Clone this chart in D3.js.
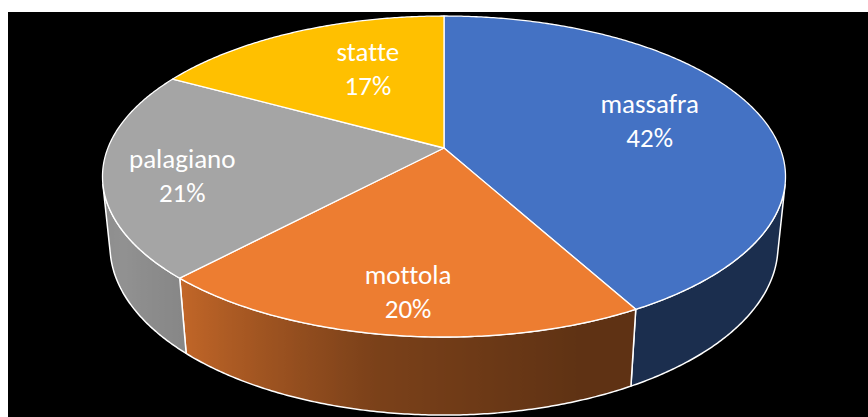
<!DOCTYPE html>
<html>
<head>
<meta charset="utf-8">
<script src="https://cdn.jsdelivr.net/npm/d3@7/dist/d3.min.js"></script>
<style>
  body { margin: 0; background: #fff; }
  svg { display: block; }
</style>
</head>
<body>
<div id="chart"></div>
<script>
// data
const categories = ["massafra", "mottola", "palagiano", "statte"];
const shares = [42, 20, 21, 17];
const percentLabels = ["42%", "20%", "21%", "17%"];

// styling
const topColors = ["#4472c4", "#ed7d31", "#a5a5a5", "#ffc000"];
const labelNudge = [[0, -3], [-5, 31], [-42, 12], [25, 0]];

const width = 868,
      height = 417;

// a simple perspective camera looking down on a flat cylinder
const cam = { x0: 444, y0: 148, F: 1677, D: 4.99, sinA: 0.4625, cosA: 0.8866, depth: 0.235 };

/**
 * Project a point of the disk (x right, z away from viewer, y up)
 * onto the screen.
 */
const project = (x, z, y) => {
    const fwd = cam.D + z * cam.cosA - y * cam.sinA;
    const up = y * cam.cosA + z * cam.sinA;
    return [cam.x0 + cam.F * x / fwd, cam.y0 - cam.F * up / fwd];
};
const rim = (a, y, r = 1) => project(r * Math.sin(a), r * Math.cos(a), y);

// Wall shading by direction of the wall (degrees clockwise from the back).
const shade = d3.scaleLinear()
    .domain([100, 160, 190, 223, 240, 260])
    .range([0.40, 0.40, 0.52, 0.82, 0.88, 0.84])
    .clamp(true);

const svg = d3.select("#chart")
    .append("svg")
    .attr("width", width)
    .attr("height", height);

const defs = svg.append("defs");

svg.append("rect")
    .attr("x", 8).attr("y", 12)
    .attr("width", width - 8).attr("height", height - 12)
    .attr("fill", "#000");

const pie = d3.pie().sort(null).value(d => d);
const arcs = pie(shares);

const line = d3.line();
const steps = (a0, a1, n) => d3.range(n + 1).map(i => a0 + (a1 - a0) * i / n);

// visible part of the outer wall
const zLim = -1 / (cam.D * cam.cosA);
const visA = Math.acos(zLim),
      visB = 2 * Math.PI - visA;

const walls = svg.append("g");
arcs.forEach((d, i) => {
    const a0 = Math.max(d.startAngle, visA),
          a1 = Math.min(d.endAngle, visB);
    if (a1 <= a0) return;
    const n = Math.max(4, Math.ceil((a1 - a0) * 180 / Math.PI * 2));
    const angles = steps(a0, a1, n);
    const base = d3.rgb(topColors[i]);

    // horizontal gradient following the wall direction
    const xs = angles.map(a => rim(a, 0)[0]);
    const xMin = d3.min(xs), xMax = d3.max(xs);
    const grad = defs.append("linearGradient")
        .attr("id", `wall-${i}`)
        .attr("gradientUnits", "userSpaceOnUse")
        .attr("x1", xMin).attr("x2", xMax)
        .attr("y1", 0).attr("y2", 0);
    angles.map((a, k) => ({ a, x: xs[k] }))
        .sort((p, q) => p.x - q.x)
        .forEach(p => {
            const f = shade(p.a * 180 / Math.PI);
            grad.append("stop")
                .attr("offset", xMax > xMin ? (p.x - xMin) / (xMax - xMin) : 0)
                .attr("stop-color", d3.rgb(base.r * f, base.g * f, base.b * f).formatHex());
        });

    const outline = angles.map(a => rim(a, 0))
        .concat(angles.slice().reverse().map(a => rim(a, -cam.depth)));
    walls.append("path")
        .attr("d", line(outline) + "Z")
        .attr("fill", `url(#wall-${i})`)
        .attr("stroke", "#fff")
        .attr("stroke-width", 1.5)
        .attr("stroke-linejoin", "round");
});

// top faces
const tops = svg.append("g");
arcs.forEach((d, i) => {
    const n = Math.ceil((d.endAngle - d.startAngle) * 180 / Math.PI * 2);
    const pts = [project(0, 0, 0)].concat(steps(d.startAngle, d.endAngle, n).map(a => rim(a, 0)));
    tops.append("path")
        .attr("d", line(pts) + "Z")
        .attr("fill", topColors[i])
        .attr("stroke", "#fff")
        .attr("stroke-width", 1.3)
        .attr("stroke-linejoin", "round");
});

// labels
const labels = svg.append("g")
    .attr("fill", "#fff")
    .attr("text-anchor", "middle")
    .style("font-family", "Carlito, Calibri, Lato, sans-serif")
    .style("font-size", "27px")
    .style("font-variant-ligatures", "none")
    .style("font-feature-settings", "'liga' 0, 'clig' 0");
arcs.forEach((d, i) => {
    const mid = (d.startAngle + d.endAngle) / 2;
    const [px, py] = rim(mid, 0, 0.65);
    const x = px + labelNudge[i][0],
          y = py + labelNudge[i][1];
    const t = labels.append("text").attr("x", x);
    t.append("tspan").attr("x", x).attr("y", y - 8).text(categories[i]);
    t.append("tspan").attr("x", x).attr("y", y + 26).text(percentLabels[i]);
});
</script>
</body>
</html>
